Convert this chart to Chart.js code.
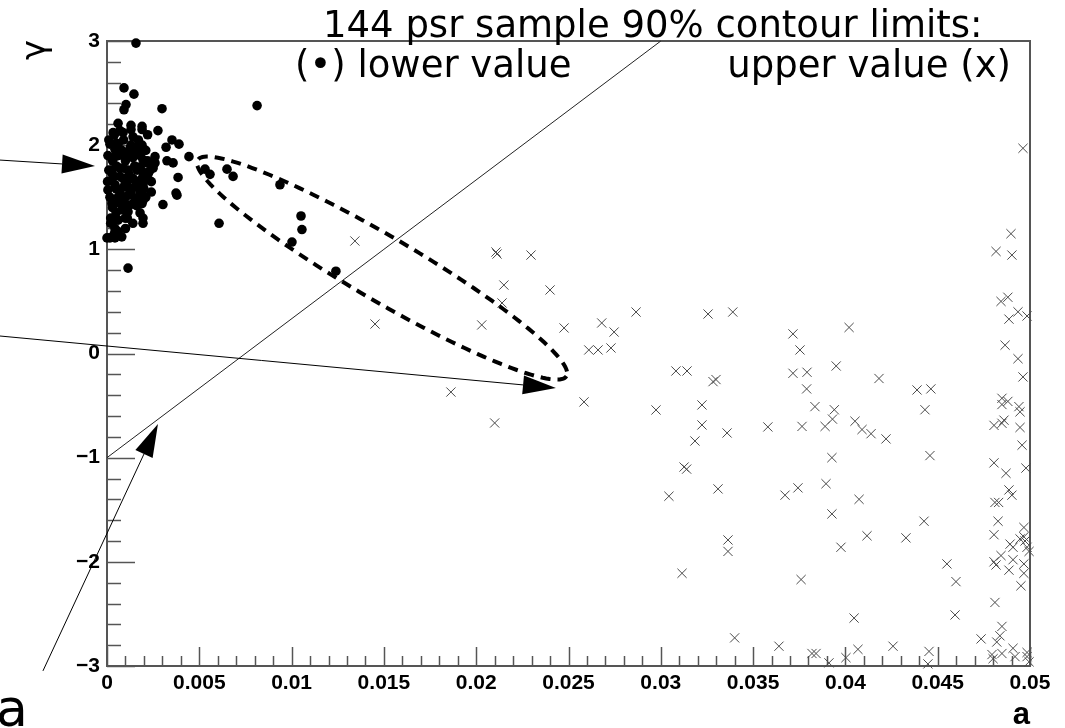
<!DOCTYPE html>
<html>
<head>
<meta charset="utf-8">
<script src="https://cdn.jsdelivr.net/npm/chart.js@4.4.0/dist/chart.umd.min.js"></script>
<style>
  body { margin: 0; background: #fff; }
  #wrap { width: 1065px; height: 728px; position: relative; }
</style>
</head>
<body>
<div id="wrap"><canvas id="chart"></canvas></div>
<script>
// lower 90% contour limit per pulsar: [a, gamma]
const lowerValues = [
  [0.00157,2.98],[0.00092,2.55],[0.00146,2.49],[0.00103,2.39],[0.00092,2.34],[0.00298,2.35],[0.00813,2.38],
  [0.0006,2.21],[0.0013,2.19],[0.0019,2.18],[0.0019,2.15],[0.00033,2.12],[0.0007,2.14],[0.00087,2.12],[0.00276,2.14],
  [0.00141,2.08],[0.00016,2.01],[0.00043,1.96],[0.0006,2.01],[0.00352,2.05],[0.0039,2.01],[0.0032,1.98],[0.00152,1.98],
  [0.00179,1.95],[0.00125,1.97],[0.00444,1.89],[0.00005,1.90],[0.00043,1.89],[0.00087,1.90],[0.00135,1.89],[0.0026,1.89],
  [0.0026,1.83],[0.00325,1.85],[0.00358,1.83],[0.00195,1.86],[0.00217,1.83],[0.00179,1.79],[0.0001,1.76],[0.00027,1.76],
  [0.0007,1.78],[0.00114,1.76],[0.00163,1.76],[0.00222,1.72],[0.00385,1.69],[0.00033,1.69],[0.00087,1.68],[0.00141,1.68],
  [0.0019,1.68],[0.00003,1.65],[0.00043,1.62],[0.00108,1.64],[0.00163,1.62],[0.00195,1.62],[0.00005,1.57],[0.0007,1.55],
  [0.00125,1.58],[0.00179,1.55],[0.00374,1.54],[0.00379,1.52],[0.00016,1.50],[0.0006,1.50],[0.00114,1.52],[0.00152,1.49],
  [0.00195,1.47],[0.00027,1.44],[0.00087,1.45],[0.00141,1.44],[0.0019,1.44],[0.00303,1.43],[0.00049,1.35],[0.00114,1.36],
  [0.00179,1.35],[0.00195,1.30],[0.00098,1.30],[0.00195,1.25],[0.00607,1.25],[0.00043,1.20],[0.0006,1.17],[0.00016,1.11],
  [0.00043,1.11],[0.0,1.11],[0.00114,0.82],[0.00531,1.77],[0.00558,1.72],[0.0065,1.77],[0.00683,1.70],[0.00937,1.62],
  [0.01051,1.32],[0.01056,1.19],[0.01002,1.07],[0.0124,0.79],
  [0.0001,2.05],[0.0003,1.85],[0.0005,1.80],[0.0008,1.95],[0.0010,1.85],[0.0012,1.72],[0.0015,1.80],[0.0018,1.90],
  [0.0021,1.95],[0.0023,1.75],[0.0005,1.58],[0.0009,1.60],[0.0013,1.55],[0.0016,1.65],[0.0020,1.58],[0.0024,1.65],
  [0.0003,1.40],[0.0008,1.38],[0.0012,1.42],[0.0016,1.42],[0.0002,1.30],[0.0006,1.28],[0.0010,1.20],[0.0014,1.25],
  [0.0004,2.10],[0.0009,2.05],[0.0013,2.15],[0.0017,2.05],[0.0022,2.10],[0.0007,1.70],[0.0011,1.93],[0.0014,1.88],
  [0.0019,1.75],[0.0022,1.85],[0.0003,1.72],[0.0006,1.90],[0.0025,1.78],[0.0017,1.50],[0.0021,1.50],[0.0004,1.15],
  [0.0008,1.12],[0.0002,1.25],[0.0011,1.30],[0.0015,1.60],[0.0020,1.68],[0.0024,1.55],[0.0006,1.45],[0.0010,1.50],
  [0.0013,2.00],[0.0016,1.95],[0.0019,2.00],[0.0005,2.02],[0.0009,1.78]
];

// upper 90% contour limit per pulsar: [a, gamma]
const upperValues = [
  [0.02107,0.974],[0.02113,0.955],[0.02297,0.945],[0.0215,0.657],[0.024,0.61],[0.0214,0.485],[0.0203,0.274],
  [0.02476,0.245],[0.0268,0.293],[0.02747,0.206],[0.0261,0.034],[0.0266,0.034],[0.0273,0.053],[0.01863,-0.37],
  [0.02584,-0.465],[0.0210,-0.667],[0.01343,1.08],[0.01452,0.283],[0.02866,0.398],[0.03256,0.379],[0.0339,0.398],
  [0.03082,-0.168],[0.03142,-0.168],[0.03283,-0.27],[0.03299,-0.25],[0.03223,-0.494],[0.02974,-0.542],[0.03223,-0.686],
  [0.03185,-0.84],[0.03359,-0.763],[0.0358,-0.705],[0.03126,-1.09],[0.0314,-1.11],[0.03044,-1.37],[0.0331,-1.30],
  [0.03364,-1.79],[0.03364,-1.90],[0.03115,-2.11],[0.034,-2.73],[0.03716,0.188],[0.03754,0.034],[0.0402,0.25],
  [0.03716,-0.19],[0.03792,-0.18],[0.0379,-0.34],[0.0395,-0.12],[0.04182,-0.24],[0.04388,-0.35],[0.04463,-0.34],
  [0.03835,-0.51],[0.0394,-0.54],[0.0393,-0.63],[0.03765,-0.70],[0.0389,-0.70],[0.04052,-0.65],[0.0409,-0.73],
  [0.04139,-0.77],[0.0422,-0.82],[0.04431,-0.54],[0.04458,-0.98],[0.03927,-1.0],[0.03673,-1.36],[0.03743,-1.29],
  [0.03895,-1.25],[0.04074,-1.40],[0.03927,-1.54],[0.04426,-1.61],[0.03976,-1.86],[0.04117,-1.75],[0.04328,-1.77],
  [0.0455,-2.02],[0.04599,-2.19],[0.0376,-2.17],[0.04594,-2.51],[0.04047,-2.54],[0.0364,-2.81],[0.03819,-2.88],
  [0.03841,-2.88],[0.03911,-2.97],[0.04003,-2.92],[0.04068,-2.84],[0.04258,-2.81],[0.04453,-2.86],[0.04447,-2.98],
  [0.04735,-2.74],
  [0.04962,1.97],[0.04897,1.15],[0.04816,0.98],[0.04902,0.945],[0.04843,0.50],[0.0488,0.54],[0.04935,0.40],
  [0.04886,0.33],[0.04984,0.36],[0.04865,0.08],[0.04935,-0.05],[0.04962,-0.225],[0.04848,-0.43],[0.0488,-0.46],
  [0.04848,-0.49],[0.0494,-0.51],[0.04946,-0.56],[0.04805,-0.69],[0.04848,-0.67],[0.04859,-0.64],[0.04946,-0.71],
  [0.04957,-0.88],[0.04805,-1.05],[0.0487,-1.15],[0.04978,-1.10],[0.04886,-1.31],[0.04902,-1.36],[0.0481,-1.43],
  [0.0483,-1.43],[0.04827,-1.61],[0.04805,-1.74],[0.04967,-1.67],[0.04967,-1.76],[0.04946,-1.78],[0.04973,-1.80],
  [0.04984,-1.86],[0.04892,-1.83],[0.04908,-1.86],[0.04843,-1.94],[0.04805,-2.0],[0.04816,-2.03],[0.04886,-2.08],
  [0.04908,-1.98],[0.04967,-2.02],[0.04967,-2.11],[0.04951,-2.23],[0.0481,-2.39],[0.04848,-2.62],[0.04837,-2.71],
  [0.0482,-2.77],[0.04794,-2.89],[0.048,-2.93],[0.04848,-2.88],[0.04908,-2.83],[0.04919,-2.91],[0.04984,-2.87],
  [0.04984,-2.91],[0.04995,-2.96],[0.04995,-1.90]
];

const xTickValues = [0, 0.005, 0.01, 0.015, 0.02, 0.025, 0.03, 0.035, 0.04, 0.045, 0.05];
const xTickLabels = ['0', '0.005', '0.01', '0.015', '0.02', '0.025', '0.03', '0.035', '0.04', '0.045', '0.05'];
const yTickValues = [-3, -2, -1, 0, 1, 2, 3];
const yTickLabels = ['\u22123', '\u22122', '\u22121', '0', '1', '2', '3'];

// annotations, in (a, gamma) units
const diagLine = [[0, -1], [0.03, 3]];
const arrows = [
  [[-0.0058, 1.857], [-0.00065, 1.80]],
  [[-0.0058, 0.168], [0.02432, -0.331]],
  [[-0.00347, -3.047], [0.00276, -0.677]]
];
const ellCenter = [0.0149, 0.82];
const ellMajor = [0.00999, -1.037];
const ellMinor = [-0.000877, -0.265];

Chart.defaults.font.family = '"Liberation Sans", Arial, sans-serif';
Chart.defaults.color = '#000';

function arrow(ctx, x0, y0, x1, y1) {
  const ang = Math.atan2(y1 - y0, x1 - x0);
  const len = 33, hw = 9.5;
  const bx = x1 - len * Math.cos(ang), by = y1 - len * Math.sin(ang);
  ctx.beginPath();
  ctx.moveTo(x0, y0);
  ctx.lineTo(bx, by);
  ctx.stroke();
  ctx.beginPath();
  ctx.moveTo(x1, y1);
  ctx.lineTo(bx + hw * Math.sin(ang), by - hw * Math.cos(ang));
  ctx.lineTo(bx - hw * Math.sin(ang), by + hw * Math.cos(ang));
  ctx.closePath();
  ctx.fill();
}

const frame = {
  id: 'frame',
  beforeDatasetsDraw(chart) {
    const {ctx, chartArea: a, scales: {x, y}} = chart;
    ctx.save();
    ctx.strokeStyle = '#555';
    ctx.lineWidth = 1.5;
    // x ticks, pointing up into the frame
    for (let i = 0; i <= 50; i++) {
      const px = Math.round(x.getPixelForValue(i * 0.001)) + 0.5;
      const len = i % 5 === 0 ? 19 : 10;
      ctx.beginPath();
      ctx.moveTo(px, a.bottom);
      ctx.lineTo(px, a.bottom - len);
      ctx.stroke();
    }
    // y ticks, pointing right
    for (let i = 0; i <= 30; i++) {
      const py = Math.round(y.getPixelForValue(-3 + i * 0.2)) + 0.5;
      const len = i % 5 === 0 ? 28 : 14;
      ctx.beginPath();
      ctx.moveTo(a.left, py);
      ctx.lineTo(a.left + len, py);
      ctx.stroke();
    }
    ctx.lineWidth = 2;
    ctx.strokeRect(a.left, a.top, a.right - a.left, a.bottom - a.top);
    ctx.restore();
  },
  afterDatasetsDraw(chart) {
    const {ctx, scales: {x, y}} = chart;
    const P = p => [x.getPixelForValue(p[0]), y.getPixelForValue(p[1])];
    ctx.save();
    ctx.strokeStyle = '#000';
    ctx.fillStyle = '#000';
    ctx.lineWidth = 1;

    // straight line
    const l0 = P(diagLine[0]), l1 = P(diagLine[1]);
    ctx.strokeStyle = '#222';
    ctx.beginPath();
    ctx.moveTo(l0[0], l0[1]);
    ctx.lineTo(l1[0], l1[1]);
    ctx.stroke();

    ctx.strokeStyle = '#000';
    arrows.forEach(function(ar) {
      const s = P(ar[0]), e = P(ar[1]);
      arrow(ctx, s[0], s[1], e[0], e[1]);
    });

    // dashed contour
    ctx.lineWidth = 4;
    ctx.setLineDash([10, 7]);
    ctx.beginPath();
    for (let k = 0; k <= 160; k++) {
      const t = k / 160 * 2 * Math.PI;
      const q = P([ellCenter[0] + ellMajor[0] * Math.cos(t) + ellMinor[0] * Math.sin(t),
                   ellCenter[1] + ellMajor[1] * Math.cos(t) + ellMinor[1] * Math.sin(t)]);
      if (k === 0) ctx.moveTo(q[0], q[1]); else ctx.lineTo(q[0], q[1]);
    }
    ctx.stroke();
    ctx.restore();
  },
  afterDraw(chart) {
    const ctx = chart.ctx;
    ctx.save();
    ctx.fillStyle = '#000';
    ctx.textBaseline = 'alphabetic';
    ctx.font = '37px "DejaVu Sans"';
    ctx.textAlign = 'left';
    ctx.fillText('144 psr sample 90% contour limits:', 323, 37);
    ctx.fillText('(\u2022) lower value', 295, 77);
    ctx.textAlign = 'right';
    ctx.fillText('upper value (x)', 1011, 77);

    ctx.textAlign = 'left';
    ctx.font = '52px "DejaVu Sans"';
    ctx.fillText('a', -4, 726);

    ctx.textAlign = 'right';
    ctx.font = 'bold 31px "Liberation Sans"';
    ctx.fillText('a', 1030, 724);

    ctx.translate(36, 50);
    ctx.rotate(-Math.PI / 2);
    ctx.textAlign = 'center';
    ctx.textBaseline = 'middle';
    ctx.font = '34px "DejaVu Sans"';
    ctx.fillText('\u03b3', 0, 0);
    ctx.restore();
  }
};

new Chart(document.getElementById('chart'), {
  type: 'scatter',
  data: {
    datasets: [
      {
        label: 'lower value',
        data: lowerValues.map(p => ({x: p[0], y: p[1]})),
        pointStyle: 'circle',
        pointRadius: 4.8,
        pointBackgroundColor: '#000',
        pointBorderWidth: 0,
        clip: false
      },
      {
        label: 'upper value',
        data: upperValues.map(p => ({x: p[0], y: p[1]})),
        pointStyle: 'crossRot',
        pointRadius: 6.5,
        pointBorderColor: '#4a4a4a',
        pointBorderWidth: 1,
        clip: false
      }
    ]
  },
  options: {
    responsive: true,
    maintainAspectRatio: false,
    animation: false,
    layout: { padding: { top: 41, right: 35, left: 0, bottom: 0 } },
    plugins: { legend: { display: false }, tooltip: { enabled: false } },
    scales: {
      x: {
        type: 'linear',
        min: 0, max: 0.05,
        afterBuildTicks: s => { s.ticks = xTickValues.map(v => ({value: v})); },
        afterFit: s => { s.height = 62; },
        grid: { display: false, drawTicks: false },
        border: { display: false },
        ticks: {
          autoSkip: false, maxRotation: 0, padding: 5,
          font: { size: 21, weight: 'bold' },
          callback: (v, i) => xTickLabels[i]
        }
      },
      y: {
        type: 'linear',
        min: -3, max: 3,
        afterBuildTicks: s => { s.ticks = yTickValues.map(v => ({value: v})); },
        afterFit: s => { s.width = 107; },
        grid: { display: false, drawTicks: false },
        border: { display: false },
        ticks: {
          autoSkip: false, padding: 7,
          font: { size: 21, weight: 'bold' },
          callback: (v, i) => yTickLabels[i]
        }
      }
    }
  },
  plugins: [frame]
});
</script>
</body>
</html>
